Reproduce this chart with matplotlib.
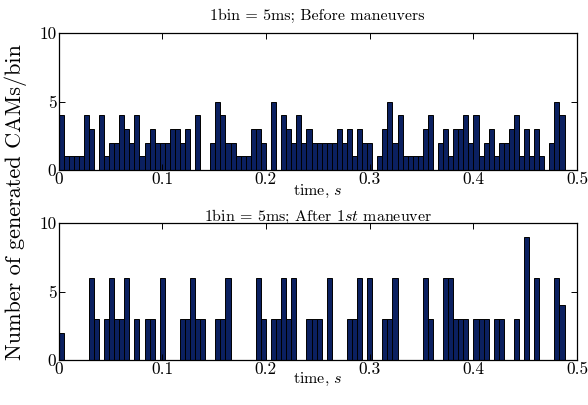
import numpy as np
import matplotlib
matplotlib.use("Agg")
import matplotlib.pyplot as plt

# ---- data (counts per bin) ----
before_counts = [4, 1, 1, 1, 1, 4, 3, 0, 4, 1, 2, 2, 4, 3, 2, 4, 1, 2, 3, 2,
                 2, 2, 3, 3, 2, 3, 0, 4, 0, 0, 2, 5, 4, 2, 2, 1, 1, 1, 3, 3,
                 2, 0, 5, 0, 4, 3, 2, 4, 2, 3, 2, 2, 2, 2, 2, 3, 2, 3, 1, 3,
                 2, 2, 0, 1, 3, 5, 2, 4, 1, 1, 1, 1, 3, 4, 0, 2, 3, 1, 3, 3,
                 4, 2, 4, 1, 2, 3, 1, 2, 2, 3, 4, 1, 3, 1, 3, 1, 0, 2, 5, 4]
after_counts = [2, 0, 0, 0, 0, 0, 6, 3, 0, 3, 6, 3, 3, 6, 0, 3, 0, 3, 3, 0,
                6, 0, 0, 0, 3, 3, 6, 3, 3, 0, 0, 3, 3, 6, 0, 0, 0, 0, 0, 6,
                3, 0, 3, 3, 6, 3, 6, 0, 0, 3, 3, 3, 0, 6, 0, 0, 0, 3, 3, 6,
                0, 6, 0, 0, 3, 3, 6, 0, 0, 0, 0, 0, 6, 3, 0, 0, 6, 6, 3, 3,
                3, 0, 3, 3, 3, 0, 3, 3, 0, 0, 3, 0, 9, 0, 6, 0, 0, 0, 6, 4]
bin_width = 0.00488
x_ticks = [0, 0.1, 0.2, 0.3, 0.4, 0.5]
x_tick_labels = ["0", "0.1", "0.2", "0.3", "0.4", "0.5"]
y_ticks = [0, 5, 10]
y_tick_labels = ["0", "5", "10"]
titles = ["1bin = 5ms; Before maneuvers", r"1bin = 5ms; After 1$st$ maneuver"]
xlabel = r"time, $s$"
ylabel = "Number of generated CAMs/bin"

plt.rcParams['font.family'] = 'serif'
plt.rcParams['font.serif'] = ['cmr10', 'DejaVu Serif']
plt.rcParams['mathtext.fontset'] = 'cm'
plt.rcParams['axes.formatter.use_mathtext'] = True

fig = plt.figure(figsize=(5.88, 4.05), dpi=100)
left = 58.5 / 588
width = (577 - 58.5) / 588
h = 136.7 / 405
ax1 = fig.add_axes([left, 1 - 170 / 405, width, h])
ax2 = fig.add_axes([left, 1 - 360 / 405, width, h])

bar_color = '#0b2060'
for ax, counts, title, tpad in [(ax1, before_counts, titles[0], 9.5),
                                (ax2, after_counts, titles[1], 1.5)]:
    edges = np.arange(len(counts)) * bin_width
    ax.bar(edges, counts, width=bin_width, align='edge', color=bar_color,
           edgecolor='black', linewidth=0.7)
    ax.set_xlim(0, 0.5)
    ax.set_ylim(0, 10)
    ax.set_xticks(x_ticks)
    ax.set_xticklabels(x_tick_labels)
    ax.set_yticks(y_ticks)
    ax.set_yticklabels(y_tick_labels)
    ax.tick_params(direction='in', top=True, right=True, length=4, width=0.7,
                   labelsize=12.5, pad=1.5)
    for s in ax.spines.values():
        s.set_linewidth(0.9)
    ax.set_xlabel(xlabel, fontsize=11.5, labelpad=-3)
    ax.set_title(title, fontsize=11.5, pad=tpad)

ax2.xaxis.labelpad = -4.5

fig.text(0.026, 0.5, ylabel, rotation=90, va='center', ha='center', fontsize=16)

fig.savefig('out.png', dpi=100)
